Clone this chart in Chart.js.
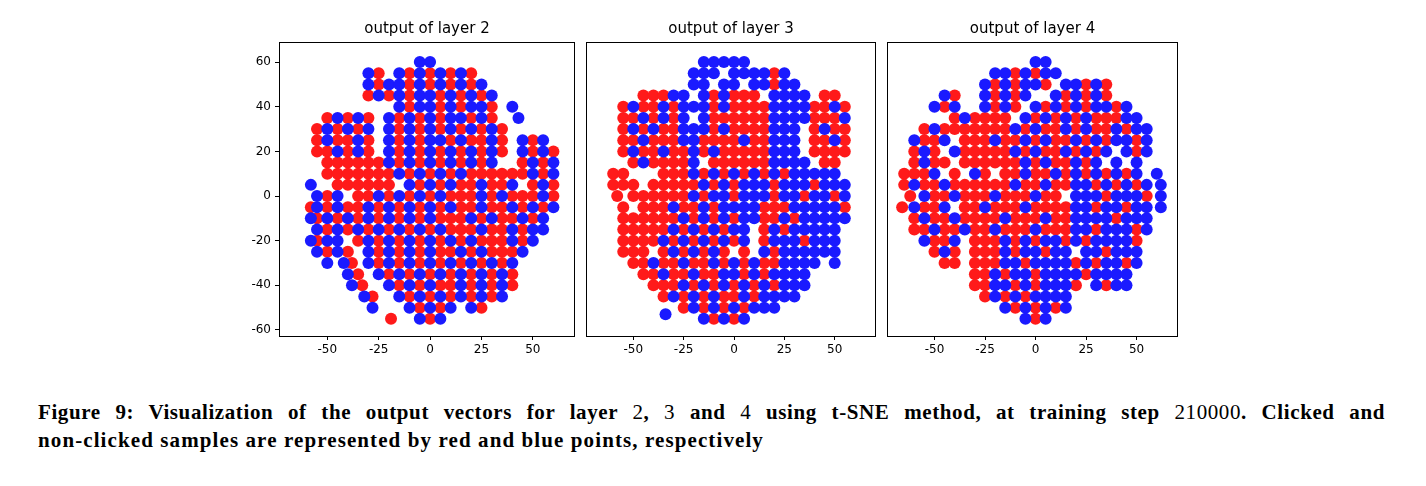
<!DOCTYPE html>
<html><head><meta charset="utf-8">
<script src="https://cdn.jsdelivr.net/npm/chart.js@4"></script>
<style>
body{margin:0;background:#fff;width:1426px;height:486px;position:relative;overflow:hidden}
canvas{position:absolute;top:0}
#cap{position:absolute;left:38px;top:398px;width:1347px;font-family:"Liberation Serif",serif;font-weight:bold;font-size:21px;line-height:28px;letter-spacing:1.1px;color:#000}
#cap .l1{display:block;text-align:justify;text-align-last:justify;letter-spacing:0.6px}
#cap .n{font-weight:normal}
</style></head><body>
<div style="position:absolute;left:229px;top:0;width:352px;height:366px"><canvas id="c1"></canvas></div>
<div style="position:absolute;left:580px;top:0;width:302px;height:366px"><canvas id="c2"></canvas></div>
<div style="position:absolute;left:881px;top:0;width:303px;height:366px"><canvas id="c3"></canvas></div>
<div id="cap"><span class="l1">Figure 9: Visualization of the output vectors for layer <span class="n">2</span>, <span class="n">3</span> and <span class="n">4</span> using t-SNE method, at training step <span class="n">210000</span>. Clicked and</span>non-clicked samples are represented by red and blue points, respectively</div>
<script>
const titles = ["output of layer 2","output of layer 3","output of layer 4"];
const xTicks = [-50,-25,0,25,50];
const yTicks = [-60,-40,-20,0,20,40,60];
// rows: [y, [x values]]
const layer2Blue = [[60,[-5,0]],[55,[-30,-15,-5,5,15]],[50,[-30,-20,-15,-5,5,15,25]],[45,[-25,-15,-5,0,10,20,30]],[40,[-15,-5,0,10,20,25,40]],[35,[-45,-35,-20,-10,0,10,15,25,43]],[30,[-50,-40,-30,-20,-10,0,10,20,30]],[25,[-50,-35,-20,-10,0,5,15,30,45,55]],[20,[-45,-35,-20,-10,0,10,20,30,45,55]],[15,[-20,-10,0,10,20,30,50,60]],[10,[-15,-5,5,15,50,60]],[5,[-58,-10,0,10,25,40,55]],[0,[-55,-45,-25,-15,-5,5,25,35,55]],[-5,[-55,-45,-30,-20,-10,0,10,25,40,50,60]],[-10,[-58,-50,-40,-30,-20,-10,0,20,30,45,55]],[-15,[-55,-45,-35,-25,-15,-5,5,25,40,50,55]],[-20,[-58,-50,-45,-30,-20,-10,0,10,20,40,50]],[-25,[-55,-45,-30,-20,-10,0,15,25,45]],[-30,[-50,-42,-30,-20,-10,0,10,20,30,40]],[-35,[-40,-25,-15,-5,5,15,25,35]],[-40,[-38,-20,-10,0,15,25,35]],[-45,[-32,-15,-5,5,15,25,35]],[-50,[-28,-10,0,10,20]],[-55,[-5,5]]];
const layer2Red = [[55,[-25,-10,0,10,20]],[50,[-25,-10,0,10,20]],[45,[-30,-20,-10,5,15,25]],[40,[-10,5,15,30]],[35,[-50,-40,-30,-15,-5,5,20,30]],[30,[-55,-45,-35,-15,-5,5,15,25,35]],[25,[-55,-45,-40,-30,-15,-5,10,20,25,35,50]],[20,[-55,-50,-40,-30,-15,-5,5,15,25,35,50,60]],[15,[-50,-45,-40,-35,-30,-25,-15,-5,5,15,25,45,55]],[10,[-50,-45,-40,-35,-30,-25,-20,-10,0,10,20,25,30,35,40,45,55]],[5,[-45,-40,-35,-30,-25,-20,-5,5,15,20,30,35,50,60]],[0,[-50,-35,-30,-20,-10,0,10,15,20,30,40,45,50,60]],[-5,[-58,-50,-40,-35,-25,-15,-5,5,15,20,30,35,45,55]],[-10,[-55,-45,-35,-25,-15,-5,5,10,15,25,35,40,50]],[-15,[-50,-40,-30,-20,-10,0,10,15,20,30,35,45]],[-20,[-55,-35,-25,-15,-5,5,15,25,30,35,45]],[-25,[-50,-40,-25,-15,-5,5,10,20,30,35,40]],[-30,[-38,-25,-15,-5,5,15,25,35]],[-35,[-35,-20,-10,0,10,20,30,40]],[-40,[-33,-15,-5,5,10,20,30,40]],[-45,[-28,-10,0,10,20,30]],[-50,[-5,5,25]],[-55,[-19,0]]];
const layer3Blue = [[60,[-15,-10,-5,0,5]],[55,[-20,-15,-10,0,5,10,15,25]],[50,[-20,-15,-5,0,10,15,25,30]],[45,[-30,-25,-15,-5,20,25,30,35]],[40,[-50,-35,-25,-20,-15,-5,20,25,30,35,50]],[35,[-45,-35,-25,-15,20,25,30,35,55]],[30,[-50,-40,-25,-20,-15,-5,20,25,30,45]],[25,[-45,-25,-20,5,20,25,30,50]],[20,[-50,-35,-20,-10,20,25,30]],[15,[-45,-20,20,25,30,35]],[10,[-20,-10,0,10,20,30,35,40,45,50]],[5,[-15,-5,5,10,15,25,30,35,45,50,55]],[0,[-20,-10,-5,5,10,15,25,30,40,45,55]],[-5,[-30,-15,-5,0,5,10,30,35,40,45,50]],[-10,[-25,-15,-5,5,10,25,35,40,45,50,55]],[-15,[-30,-20,-10,0,5,20,30,35,40,45,50]],[-20,[-35,-25,-15,-5,5,20,25,30,40,45,50]],[-25,[-30,-20,-10,15,25,30,35,40,45,50]],[-30,[-40,-25,-10,0,10,25,30,35,40,50]],[-35,[-35,-20,-5,0,10,20,25,30,35]],[-40,[-25,-15,-5,5,15,25,30,35]],[-45,[-30,-20,-10,5,15,20,25,30]],[-50,[-20,-10,0,10,15,20]],[-53,[-34]],[-55,[-15,-5,5]]];
const layer3Red = [[55,[20]],[50,[20]],[45,[-45,-40,-35,-10,0,5,10,45,50]],[40,[-55,-45,-40,-30,-10,0,5,10,15,40,45,55]],[35,[-55,-50,-40,-30,-10,-5,0,5,10,15,40,45,50]],[30,[-55,-45,-35,-30,-10,0,5,10,15,40,50,55]],[25,[-55,-50,-40,-35,-30,-15,-10,-5,0,10,15,40,45,55]],[20,[-55,-45,-40,-30,-25,-15,-5,0,5,10,15,40,45,50,55]],[15,[-50,-40,-35,-30,-25,-10,-5,0,5,10,15,45,50]],[10,[-60,-55,-35,-30,-25,-15,-5,5,15,25]],[5,[-60,-55,-50,-40,-35,-30,-25,-20,-10,0,20,40]],[0,[-58,-50,-45,-40,-35,-30,-25,-15,0,20,35,50]],[-5,[-55,-45,-40,-35,-25,-20,-10,15,20,25,55]],[-10,[-55,-50,-45,-40,-35,-30,-20,-10,0,15,20,30]],[-15,[-55,-50,-45,-40,-35,-25,-15,-5,15,25]],[-20,[-55,-50,-45,-40,-30,-20,-10,0,15,35]],[-25,[-55,-50,-45,-35,-25,-15,-5,5,20]],[-30,[-50,-45,-35,-30,-20,-15,-5,5,15,20]],[-35,[-45,-40,-30,-25,-15,-10,5,15]],[-40,[-40,-35,-30,-20,-10,0,10,20]],[-45,[-35,-25,-15,-5,0,10]],[-50,[-25,-15,-5,5]],[-55,[-10,0]]];
const layer4Blue = [[60,[0,5]],[55,[-20,-15,-5,5,10]],[50,[-25,-15,-5,0,15,20,30]],[45,[-45,-25,-15,-5,10,20,30]],[40,[-50,-40,-25,-15,0,10,20,30,35,45]],[35,[-35,-5,5,15,25,45,50]],[30,[-50,-10,0,15,25,40,50,55]],[25,[-60,-45,-20,-5,5,20,30,40,45,55]],[20,[-55,-40,-10,0,15,25,35,45,55]],[15,[-55,-5,5,20,30,40,50]],[10,[-50,-30,-5,10,20,30,40,50,60]],[5,[-60,-45,-10,5,20,25,35,45,55,62]],[0,[-55,-40,-20,0,20,25,30,40,45,50,62]],[-5,[-60,-45,-25,-5,20,25,35,40,50,55,62]],[-10,[-55,-40,-15,5,20,25,30,35,45,50,55]],[-15,[-50,-35,-20,0,20,25,35,40,45,55]],[-20,[-55,-40,-15,-5,5,10,20,30,35,40,45]],[-25,[-45,-15,-5,0,10,15,25,30,40,45,50]],[-30,[-15,-10,0,5,10,15,25,35,40,50]],[-35,[-20,-10,-5,5,10,15,20,30,35,40,45]],[-40,[-20,-15,-5,5,10,15,30,40,45]],[-45,[-20,-10,0,5,10,15]],[-50,[-15,-5,5,15]],[-55,[-5,5]]];
const layer4Red = [[55,[-10,0]],[50,[-20,-10,5,25,35]],[45,[-40,-20,-10,15,25,35]],[40,[-45,-20,-10,5,15,25,40]],[35,[-40,-30,-25,-20,-15,0,10,20,30,35,40]],[30,[-55,-45,-40,-35,-30,-25,-20,-15,-5,5,10,20,30,35,45]],[25,[-55,-50,-35,-30,-25,-15,-10,0,10,15,25,35,50]],[20,[-60,-50,-35,-30,-25,-20,-15,-5,5,10,20,30,50]],[15,[-60,-50,-45,-35,-30,-25,-20,-15,-10,0,10,15,25]],[10,[-65,-60,-55,-40,-25,-15,-10,0,5,15,25,35,45]],[5,[-65,-55,-50,-40,-35,-30,-25,-20,-15,-5,0,10,15,30,40,50]],[0,[-62,-50,-45,-35,-30,-25,-15,-10,-5,5,10,35,55]],[-5,[-66,-55,-50,-35,-30,-20,-15,-10,0,5,10,15,30,45]],[-10,[-60,-50,-45,-35,-30,-25,-20,-10,-5,0,10,15,40]],[-15,[-60,-55,-45,-40,-30,-25,-15,-10,-5,5,10,15,30,50]],[-20,[-50,-45,-30,-25,-20,-10,0,15,25,50]],[-25,[-50,-40,-30,-25,-20,-10,5,35]],[-30,[-45,-40,-30,-25,-20,-5,20,30,45]],[-35,[-30,-25,-15,0,25]],[-40,[-30,-25,-10,0,20,35]],[-45,[-25,-15,-5]],[-50,[-10,0,10]],[-55,[0]]];

const panels = [[layer2Blue,layer2Red],[layer3Blue,layer3Red],[layer4Blue,layer4Red]];
const toPts = rows => rows.flatMap(([y,xs]) => xs.map(x => ({x, y})));

const frame = {id:'frame', afterDraw(c){const a=c.chartArea,x=c.ctx;x.save();x.strokeStyle='#000';x.lineWidth=1;x.strokeRect(Math.round(a.left)+0.5,Math.round(a.top)+0.5,Math.round(a.right-a.left)-1,Math.round(a.bottom-a.top));
x.fillStyle='#000';x.font='15px "DejaVu Sans"';x.textAlign='center';x.textBaseline='alphabetic';x.fillText(c.options.plugins.ptitle,(a.left+a.right)/2,a.top-9);x.restore();}};

['c1','c2','c3'].forEach((id,i)=>{
  new Chart(document.getElementById(id),{
    type:'scatter',
    data:{datasets:[
      {data:toPts(panels[i][0]),backgroundColor:'#1a1aff',borderWidth:0,pointRadius:6,pointHoverRadius:6},
      {data:toPts(panels[i][1]),backgroundColor:'#ff1a1a',borderWidth:0,pointRadius:6,pointHoverRadius:6}
    ]},
    plugins:[frame],
    options:{responsive:true,maintainAspectRatio:false,animation:false,
      layout:{padding:{top:42,right:0,left:0,bottom:0}},
      plugins:{legend:{display:false},tooltip:{enabled:false},ptitle:titles[i]},
      scales:{
        x:{type:'linear',min:-73.5,max:70.5,afterBuildTicks:s=>{s.ticks=xTicks.map(v=>({value:v}))},
           afterFit:s=>{s.height=30},border:{display:false},
           grid:{drawOnChartArea:false,drawTicks:true,tickLength:4,color:'#000'},
           ticks:{color:'#000',font:{family:'DejaVu Sans',size:12},padding:3,maxRotation:0}},
        y:{type:'linear',min:-62.7,max:69,afterBuildTicks:s=>{s.ticks=yTicks.map(v=>({value:v}))},
           afterFit:s=>{s.width=(i===0?50:0)},border:{display:false},
           grid:{drawOnChartArea:false,drawTicks:i===0,tickLength:4,color:'#000'},
           ticks:{display:i===0,color:'#000',font:{family:'DejaVu Sans',size:12},padding:4}}
      }}
  });
});
</script>
</body></html>
